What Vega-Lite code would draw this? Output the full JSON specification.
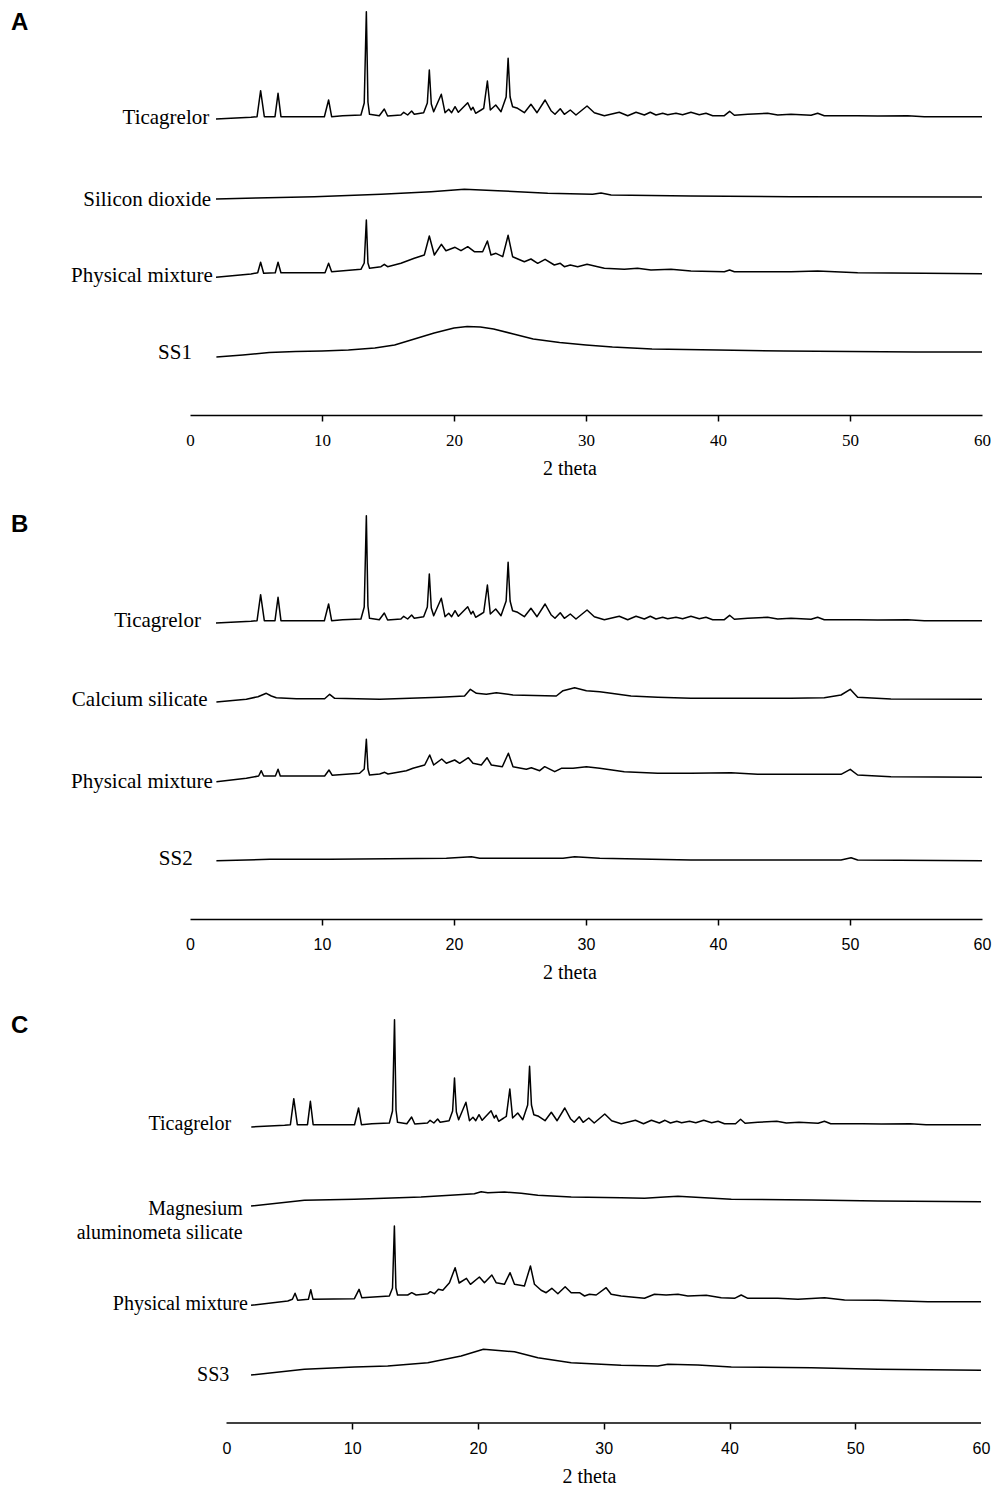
{
  "$schema": "https://vega.github.io/schema/vega-lite/v6.json",
  "background": "white",
  "padding": {"left": 10, "top": 5, "right": 5, "bottom": 2},
  "spacing": 31,
  "config": {"view": {"stroke": null}},
  "datasets": {
    "tica": [
      {"x":1.97,"y":296},{"x":4.62,"y":297.7},{"x":5.08,"y":298.3},{"x":5.35,"y":324.3},{"x":5.63,"y":298.3},{"x":6.44,"y":298.3},{"x":6.67,"y":321.7},{"x":6.89,"y":298.3},{"x":10.18,"y":298.3},{"x":10.5,"y":315},{"x":10.73,"y":298.3},{"x":11.56,"y":299.3},{"x":12.95,"y":300},{"x":13.2,"y":312},{"x":13.36,"y":403.3},{"x":13.48,"y":313},{"x":13.6,"y":300.7},{"x":14.34,"y":299.3},{"x":14.72,"y":306},{"x":14.97,"y":299},{"x":15.98,"y":300},{"x":16.19,"y":302.7},{"x":16.49,"y":300},{"x":16.79,"y":304},{"x":16.99,"y":300.7},{"x":17.7,"y":302.3},{"x":17.98,"y":312},{"x":18.13,"y":345},{"x":18.28,"y":311},{"x":18.46,"y":303.3},{"x":19.04,"y":320.7},{"x":19.32,"y":302.3},{"x":19.6,"y":305.7},{"x":19.82,"y":302.3},{"x":20.08,"y":308.3},{"x":20.33,"y":302.7},{"x":21.04,"y":312.3},{"x":21.29,"y":305},{"x":21.44,"y":307.7},{"x":21.64,"y":301.7},{"x":22.05,"y":305},{"x":22.25,"y":306.7},{"x":22.53,"y":334},{"x":22.75,"y":305},{"x":23.16,"y":310},{"x":23.56,"y":303.3},{"x":23.95,"y":318},{"x":24.1,"y":356.7},{"x":24.25,"y":318},{"x":24.44,"y":308.3},{"x":24.82,"y":306.7},{"x":25.33,"y":302.3},{"x":25.83,"y":310.7},{"x":26.29,"y":302.3},{"x":26.9,"y":315},{"x":27.35,"y":304.3},{"x":27.65,"y":300.7},{"x":28.05,"y":306.3},{"x":28.36,"y":300.7},{"x":28.81,"y":305},{"x":29.24,"y":300},{"x":30.08,"y":309},{"x":30.63,"y":302.3},{"x":31.39,"y":299.3},{"x":32.52,"y":302.7},{"x":33.16,"y":299.3},{"x":33.79,"y":302.7},{"x":34.42,"y":300},{"x":34.87,"y":302.7},{"x":35.3,"y":300},{"x":35.81,"y":301.7},{"x":36.19,"y":300.3},{"x":36.82,"y":301.7},{"x":37.32,"y":300.3},{"x":37.95,"y":302.7},{"x":38.58,"y":300.3},{"x":39.09,"y":301.7},{"x":39.6,"y":299.3},{"x":40.48,"y":299.3},{"x":40.88,"y":303.7},{"x":41.24,"y":299.7},{"x":42.25,"y":300.7},{"x":43.76,"y":301.7},{"x":44.52,"y":300},{"x":45.53,"y":300.7},{"x":47.05,"y":299.7},{"x":47.55,"y":301.7},{"x":48.05,"y":299.3},{"x":50.58,"y":299.3},{"x":52.1,"y":299},{"x":54.37,"y":299.3},{"x":55.63,"y":298.3},{"x":60,"y":298.3}
    ],
    "a": [
      {"s":"sio2","x":1.97,"y":216},{"s":"sio2","x":5,"y":217},{"s":"sio2","x":9.42,"y":218.3},{"s":"sio2","x":14.47,"y":220.7},{"s":"sio2","x":18.26,"y":223.3},{"s":"sio2","x":20.78,"y":225.7},{"s":"sio2","x":23.31,"y":224.3},{"s":"sio2","x":27.1,"y":221.7},{"s":"sio2","x":30.5,"y":220.7},{"s":"sio2","x":31.14,"y":221.9},{"s":"sio2","x":31.9,"y":220},{"s":"sio2","x":37.95,"y":219},{"s":"sio2","x":45.5,"y":218.3},{"s":"sio2","x":60,"y":218},
      {"s":"pm","x":1.97,"y":137.7},{"s":"pm","x":4.62,"y":141},{"s":"pm","x":5.13,"y":142.3},{"s":"pm","x":5.35,"y":152.7},{"s":"pm","x":5.58,"y":141.7},{"s":"pm","x":6.46,"y":142.3},{"s":"pm","x":6.67,"y":152.7},{"s":"pm","x":6.89,"y":142.3},{"s":"pm","x":10.23,"y":142.3},{"s":"pm","x":10.5,"y":151.7},{"s":"pm","x":10.73,"y":143.3},{"s":"pm","x":12.95,"y":145.7},{"s":"pm","x":13.2,"y":152},{"s":"pm","x":13.36,"y":195},{"s":"pm","x":13.48,"y":152},{"s":"pm","x":13.6,"y":146.7},{"s":"pm","x":14.47,"y":148.3},{"s":"pm","x":14.72,"y":150.7},{"s":"pm","x":14.97,"y":148.3},{"s":"pm","x":15.98,"y":151.7},{"s":"pm","x":16.99,"y":156.7},{"s":"pm","x":17.75,"y":160},{"s":"pm","x":18.13,"y":179},{"s":"pm","x":18.51,"y":160},{"s":"pm","x":19.04,"y":170.7},{"s":"pm","x":19.39,"y":164.3},{"s":"pm","x":20.08,"y":167.7},{"s":"pm","x":20.53,"y":164.3},{"s":"pm","x":21.04,"y":168.3},{"s":"pm","x":21.54,"y":163.3},{"s":"pm","x":22.17,"y":163.3},{"s":"pm","x":22.53,"y":174},{"s":"pm","x":22.8,"y":160},{"s":"pm","x":23.18,"y":161.7},{"s":"pm","x":23.69,"y":158.3},{"s":"pm","x":24.1,"y":179.7},{"s":"pm","x":24.44,"y":158.3},{"s":"pm","x":25.33,"y":153.3},{"s":"pm","x":25.83,"y":156},{"s":"pm","x":26.34,"y":151.7},{"s":"pm","x":26.9,"y":155.7},{"s":"pm","x":27.6,"y":150},{"s":"pm","x":28.05,"y":151.7},{"s":"pm","x":28.36,"y":148.3},{"s":"pm","x":28.81,"y":150},{"s":"pm","x":29.37,"y":148.3},{"s":"pm","x":30.08,"y":150.7},{"s":"pm","x":30.89,"y":148.3},{"s":"pm","x":31.39,"y":146.7},{"s":"pm","x":32.9,"y":145.7},{"s":"pm","x":33.9,"y":146.7},{"s":"pm","x":34.92,"y":145},{"s":"pm","x":36.44,"y":145.7},{"s":"pm","x":37.95,"y":144},{"s":"pm","x":40.48,"y":143.3},{"s":"pm","x":40.88,"y":145},{"s":"pm","x":41.24,"y":143.3},{"s":"pm","x":45.53,"y":143.3},{"s":"pm","x":47.55,"y":144},{"s":"pm","x":50.58,"y":142.3},{"s":"pm","x":55.63,"y":141.7},{"s":"pm","x":60,"y":141.3},
      {"s":"ss","x":2,"y":58},{"s":"ss","x":4,"y":60},{"s":"ss","x":6,"y":62.5},{"s":"ss","x":8,"y":63.5},{"s":"ss","x":10,"y":64},{"s":"ss","x":12,"y":65},{"s":"ss","x":14,"y":67},{"s":"ss","x":15.5,"y":70},{"s":"ss","x":17,"y":76},{"s":"ss","x":18.5,"y":82},{"s":"ss","x":20,"y":87},{"s":"ss","x":21,"y":88.5},{"s":"ss","x":22,"y":88},{"s":"ss","x":23,"y":86},{"s":"ss","x":24.5,"y":81},{"s":"ss","x":26,"y":76},{"s":"ss","x":28,"y":72.5},{"s":"ss","x":30,"y":70},{"s":"ss","x":32,"y":68},{"s":"ss","x":35,"y":66},{"s":"ss","x":40,"y":65},{"s":"ss","x":45,"y":64},{"s":"ss","x":50,"y":63.5},{"s":"ss","x":55,"y":63},{"s":"ss","x":60,"y":63}
    ],
    "b": [
      {"s":"cs","x":2.0,"y":217},{"s":"cs","x":4.27,"y":219.7},{"s":"cs","x":5.15,"y":222.3},{"s":"cs","x":5.78,"y":225.7},{"s":"cs","x":6.16,"y":223},{"s":"cs","x":6.54,"y":221.3},{"s":"cs","x":8.06,"y":220.3},{"s":"cs","x":10.2,"y":220.3},{"s":"cs","x":10.58,"y":224.7},{"s":"cs","x":10.96,"y":220.7},{"s":"cs","x":14.37,"y":219.7},{"s":"cs","x":18.92,"y":221.7},{"s":"cs","x":20.8,"y":223},{"s":"cs","x":21.24,"y":229.7},{"s":"cs","x":21.7,"y":225.7},{"s":"cs","x":22.45,"y":224.7},{"s":"cs","x":23.21,"y":226.3},{"s":"cs","x":24.47,"y":224},{"s":"cs","x":27.75,"y":223},{"s":"cs","x":28.26,"y":228.3},{"s":"cs","x":29.14,"y":231.3},{"s":"cs","x":30.03,"y":228.3},{"s":"cs","x":31.04,"y":227.3},{"s":"cs","x":31.89,"y":225.7},{"s":"cs","x":33.41,"y":223},{"s":"cs","x":35.43,"y":221.7},{"s":"cs","x":37.95,"y":220.7},{"s":"cs","x":45.53,"y":220.7},{"s":"cs","x":48.05,"y":221.3},{"s":"cs","x":49.32,"y":224},{"s":"cs","x":50.02,"y":229.7},{"s":"cs","x":50.58,"y":221.7},{"s":"cs","x":53.1,"y":220},{"s":"cs","x":60,"y":219.7},
      {"s":"pm","x":2.0,"y":137.3},{"s":"pm","x":4.27,"y":140.7},{"s":"pm","x":5.2,"y":143},{"s":"pm","x":5.4,"y":148.3},{"s":"pm","x":5.58,"y":143},{"s":"pm","x":6.47,"y":143},{"s":"pm","x":6.67,"y":149.7},{"s":"pm","x":6.84,"y":143},{"s":"pm","x":10.2,"y":143},{"s":"pm","x":10.53,"y":149},{"s":"pm","x":10.78,"y":143.7},{"s":"pm","x":12.85,"y":145.7},{"s":"pm","x":13.2,"y":150},{"s":"pm","x":13.36,"y":179.7},{"s":"pm","x":13.48,"y":150},{"s":"pm","x":13.6,"y":144},{"s":"pm","x":14.37,"y":145},{"s":"pm","x":14.75,"y":146.7},{"s":"pm","x":15.0,"y":145},{"s":"pm","x":16.39,"y":148.3},{"s":"pm","x":16.89,"y":150.7},{"s":"pm","x":17.78,"y":154},{"s":"pm","x":18.16,"y":164},{"s":"pm","x":18.46,"y":154},{"s":"pm","x":19.07,"y":160},{"s":"pm","x":19.42,"y":155.7},{"s":"pm","x":20.05,"y":159},{"s":"pm","x":20.43,"y":155.7},{"s":"pm","x":21.09,"y":161.3},{"s":"pm","x":21.44,"y":155.7},{"s":"pm","x":22.07,"y":154},{"s":"pm","x":22.5,"y":161.3},{"s":"pm","x":22.83,"y":154},{"s":"pm","x":23.66,"y":152.3},{"s":"pm","x":24.12,"y":165.7},{"s":"pm","x":24.47,"y":152.3},{"s":"pm","x":25.48,"y":149.7},{"s":"pm","x":25.86,"y":151.3},{"s":"pm","x":26.49,"y":148.3},{"s":"pm","x":26.87,"y":152.3},{"s":"pm","x":27.63,"y":147.3},{"s":"pm","x":28.13,"y":150.7},{"s":"pm","x":29.02,"y":150.7},{"s":"pm","x":30.03,"y":152.3},{"s":"pm","x":31.04,"y":150.7},{"s":"pm","x":32.9,"y":147.3},{"s":"pm","x":35.43,"y":145.7},{"s":"pm","x":37.95,"y":145.7},{"s":"pm","x":40.98,"y":146.3},{"s":"pm","x":43,"y":144.7},{"s":"pm","x":47.55,"y":144.7},{"s":"pm","x":49.32,"y":144.7},{"s":"pm","x":50.02,"y":149.7},{"s":"pm","x":50.58,"y":144},{"s":"pm","x":53.1,"y":142.3},{"s":"pm","x":60,"y":141.7},
      {"s":"ss","x":2.0,"y":58.3},{"s":"ss","x":6.04,"y":59.7},{"s":"ss","x":10.58,"y":59.7},{"s":"ss","x":19.42,"y":60.7},{"s":"ss","x":21.32,"y":62.3},{"s":"ss","x":21.95,"y":60.7},{"s":"ss","x":28.26,"y":60.7},{"s":"ss","x":29.14,"y":62.3},{"s":"ss","x":31.04,"y":60.7},{"s":"ss","x":37.95,"y":59},{"s":"ss","x":49.32,"y":59},{"s":"ss","x":50.08,"y":61.3},{"s":"ss","x":50.58,"y":59},{"s":"ss","x":60,"y":58.3}
    ],
    "c": [
      {"s":"mg","x":1.95,"y":217},{"s":"mg","x":6.19,"y":222.7},{"s":"mg","x":10.17,"y":223.7},{"s":"mg","x":15.47,"y":226},{"s":"mg","x":18.12,"y":228},{"s":"mg","x":19.71,"y":229.3},{"s":"mg","x":20.25,"y":231.3},{"s":"mg","x":20.78,"y":230.3},{"s":"mg","x":22.1,"y":231},{"s":"mg","x":23.43,"y":229.7},{"s":"mg","x":24.76,"y":227.7},{"s":"mg","x":27.41,"y":226},{"s":"mg","x":31.38,"y":225.3},{"s":"mg","x":33.24,"y":224.7},{"s":"mg","x":34.83,"y":226},{"s":"mg","x":35.9,"y":226.7},{"s":"mg","x":38.02,"y":225.3},{"s":"mg","x":40.14,"y":223.7},{"s":"mg","x":46.5,"y":223},{"s":"mg","x":51.8,"y":222},{"s":"mg","x":60,"y":221.3},
      {"s":"pm","x":1.95,"y":117.7},{"s":"pm","x":4.87,"y":122},{"s":"pm","x":5.24,"y":123.7},{"s":"pm","x":5.45,"y":129.7},{"s":"pm","x":5.66,"y":122.7},{"s":"pm","x":6.51,"y":123.7},{"s":"pm","x":6.7,"y":133.3},{"s":"pm","x":6.88,"y":123.7},{"s":"pm","x":10.17,"y":124.3},{"s":"pm","x":10.54,"y":133.7},{"s":"pm","x":10.76,"y":125.3},{"s":"pm","x":12.95,"y":127},{"s":"pm","x":13.2,"y":135},{"s":"pm","x":13.35,"y":197},{"s":"pm","x":13.47,"y":135},{"s":"pm","x":13.6,"y":128},{"s":"pm","x":14.41,"y":128},{"s":"pm","x":14.73,"y":130.3},{"s":"pm","x":15.08,"y":128},{"s":"pm","x":16.01,"y":129.3},{"s":"pm","x":16.21,"y":131.3},{"s":"pm","x":16.53,"y":129.3},{"s":"pm","x":16.85,"y":133.7},{"s":"pm","x":17.2,"y":132.7},{"s":"pm","x":17.73,"y":140.3},{"s":"pm","x":18.18,"y":155.3},{"s":"pm","x":18.5,"y":140},{"s":"pm","x":19.08,"y":144.7},{"s":"pm","x":19.4,"y":138.7},{"s":"pm","x":20.11,"y":146},{"s":"pm","x":20.51,"y":140.3},{"s":"pm","x":21.1,"y":148},{"s":"pm","x":21.44,"y":140.3},{"s":"pm","x":22.1,"y":138.7},{"s":"pm","x":22.55,"y":150.3},{"s":"pm","x":22.9,"y":138.7},{"s":"pm","x":23.69,"y":137},{"s":"pm","x":24.17,"y":157},{"s":"pm","x":24.49,"y":138.7},{"s":"pm","x":25.02,"y":132.7},{"s":"pm","x":25.42,"y":130.3},{"s":"pm","x":25.87,"y":134.7},{"s":"pm","x":26.35,"y":129.3},{"s":"pm","x":26.93,"y":136.3},{"s":"pm","x":27.41,"y":130.3},{"s":"pm","x":28.07,"y":130.3},{"s":"pm","x":28.47,"y":127},{"s":"pm","x":28.86,"y":128.7},{"s":"pm","x":29.4,"y":128},{"s":"pm","x":30.19,"y":135.3},{"s":"pm","x":30.59,"y":128.7},{"s":"pm","x":31.38,"y":127},{"s":"pm","x":32.18,"y":126},{"s":"pm","x":33.24,"y":124.7},{"s":"pm","x":34.03,"y":128.7},{"s":"pm","x":34.96,"y":128},{"s":"pm","x":35.9,"y":128.7},{"s":"pm","x":36.69,"y":127},{"s":"pm","x":38.15,"y":127.7},{"s":"pm","x":39.34,"y":125.3},{"s":"pm","x":40.4,"y":124.7},{"s":"pm","x":40.93,"y":128},{"s":"pm","x":41.46,"y":124.7},{"s":"pm","x":43.85,"y":124.7},{"s":"pm","x":45.44,"y":123.7},{"s":"pm","x":47.56,"y":125.3},{"s":"pm","x":49.15,"y":123},{"s":"pm","x":51.8,"y":122.7},{"s":"pm","x":55.78,"y":121.3},{"s":"pm","x":60,"y":121.3},
      {"s":"ss","x":1.95,"y":48},{"s":"ss","x":6.19,"y":53.7},{"s":"ss","x":10.17,"y":56},{"s":"ss","x":12.82,"y":57},{"s":"ss","x":16.01,"y":60.3},{"s":"ss","x":18.66,"y":67},{"s":"ss","x":20.43,"y":73.7},{"s":"ss","x":22.1,"y":72},{"s":"ss","x":22.9,"y":71.3},{"s":"ss","x":24.76,"y":65.3},{"s":"ss","x":27.41,"y":60.3},{"s":"ss","x":31.38,"y":57.7},{"s":"ss","x":34.3,"y":57},{"s":"ss","x":35.1,"y":58.7},{"s":"ss","x":37.49,"y":58},{"s":"ss","x":40.14,"y":56},{"s":"ss","x":46.5,"y":55.3},{"s":"ss","x":51.8,"y":53.7},{"s":"ss","x":60,"y":52.7}
    ],
    "labels": [
      {"p":"A","t":"Ticagrelor","x":1.46,"y":297},
      {"p":"A","t":"Silicon dioxide","x":1.59,"y":215},
      {"p":"A","t":"Physical mixture","x":1.72,"y":139},
      {"p":"A","t":"SS1","x":0.15,"y":62},
      {"p":"B","t":"Ticagrelor","x":0.83,"y":298},
      {"p":"B","t":"Calcium silicate","x":1.34,"y":219},
      {"p":"B","t":"Physical mixture","x":1.72,"y":137},
      {"p":"B","t":"SS2","x":0.2,"y":60},
      {"p":"C","t":"Ticagrelor","x":0.36,"y":299},
      {"p":"C","t":"Magnesium\naluminometa silicate","x":1.29,"y":214},
      {"p":"C","t":"Physical mixture","x":1.69,"y":119},
      {"p":"C","t":"SS3","x":0.22,"y":48}
    ],
    "letters": [
      {"p":"A","t":"A","x":-13.56,"y":392},
      {"p":"B","t":"B","x":-13.56,"y":394},
      {"p":"C","t":"C","x":-17.14,"y":397}
    ]
  },
  "vconcat": [
    {
      "width": 792, "height": 410,
      "layer": [
        {"data": {"name": "tica"},
         "mark": {"type": "line", "color": "black", "strokeWidth": 1.5, "strokeJoin": "round"},
         "encoding": {
           "x": {"field": "x", "type": "quantitative", "scale": {"domain": [0, 60], "nice": false, "zero": false},
                 "axis": {"values": [0,10,20,30,40,50,60], "title": "2 theta", "grid": false, "domainColor": "black", "domainWidth": 1.5,
                          "tickColor": {"condition": {"test": "datum.value === 0 || datum.value === 60", "value": "transparent"}, "value": "black"},
                          "tickSize": 6, "tickWidth": 1.5, "labelFont": "Liberation Serif", "labelFontSize": 17, "labelColor": "black",
                          "labelPadding": 11, "labelFlush": false, "labelOverlap": false,
                          "titleFont": "Liberation Serif", "titleFontSize": 20, "titleFontWeight": "normal", "titleColor": "black",
                          "titlePadding": 10, "titleX": 379.5}},
           "y": {"field": "y", "type": "quantitative", "scale": {"domain": [0, 410], "nice": false}, "axis": null}
         }},
        {"data": {"name": "a"},
         "mark": {"type": "line", "color": "black", "strokeWidth": 1.5, "strokeJoin": "round"},
         "encoding": {
           "x": {"field": "x", "type": "quantitative"},
           "y": {"field": "y", "type": "quantitative"},
           "detail": {"field": "s", "type": "nominal"}
         }},
        {"data": {"name": "labels"}, "transform": [{"filter": "datum.p === 'A'"}],
         "mark": {"type": "text", "align": "right", "baseline": "middle", "font": "Liberation Serif", "fontSize": 21, "color": "black"},
         "encoding": {"x": {"field": "x", "type": "quantitative"}, "y": {"field": "y", "type": "quantitative"}, "text": {"field": "t"}}},
        {"data": {"name": "letters"}, "transform": [{"filter": "datum.p === 'A'"}],
         "mark": {"type": "text", "align": "left", "baseline": "middle", "font": "Liberation Sans", "fontWeight": "bold", "fontSize": 24, "color": "black"},
         "encoding": {"x": {"field": "x", "type": "quantitative"}, "y": {"field": "y", "type": "quantitative"}, "text": {"field": "t"}}}
      ]
    },
    {
      "width": 792, "height": 410,
      "layer": [
        {"data": {"name": "tica"},
         "mark": {"type": "line", "color": "black", "strokeWidth": 1.5, "strokeJoin": "round"},
         "encoding": {
           "x": {"field": "x", "type": "quantitative", "scale": {"domain": [0, 60], "nice": false, "zero": false},
                 "axis": {"values": [0,10,20,30,40,50,60], "title": "2 theta", "grid": false, "domainColor": "black", "domainWidth": 1.5,
                          "tickColor": {"condition": {"test": "datum.value === 0 || datum.value === 60", "value": "transparent"}, "value": "black"},
                          "tickSize": 6, "tickWidth": 1.5, "labelFont": "Liberation Sans", "labelFontSize": 16, "labelColor": "black",
                          "labelPadding": 11, "labelFlush": false, "labelOverlap": false,
                          "titleFont": "Liberation Serif", "titleFontSize": 20, "titleFontWeight": "normal", "titleColor": "black",
                          "titlePadding": 10, "titleX": 379.5}},
           "y": {"field": "y", "type": "quantitative", "scale": {"domain": [0, 410], "nice": false}, "axis": null}
         }},
        {"data": {"name": "b"},
         "mark": {"type": "line", "color": "black", "strokeWidth": 1.5, "strokeJoin": "round"},
         "encoding": {
           "x": {"field": "x", "type": "quantitative"},
           "y": {"field": "y", "type": "quantitative"},
           "detail": {"field": "s", "type": "nominal"}
         }},
        {"data": {"name": "labels"}, "transform": [{"filter": "datum.p === 'B'"}],
         "mark": {"type": "text", "align": "right", "baseline": "middle", "font": "Liberation Serif", "fontSize": 21, "color": "black"},
         "encoding": {"x": {"field": "x", "type": "quantitative"}, "y": {"field": "y", "type": "quantitative"}, "text": {"field": "t"}}},
        {"data": {"name": "letters"}, "transform": [{"filter": "datum.p === 'B'"}],
         "mark": {"type": "text", "align": "left", "baseline": "middle", "font": "Liberation Sans", "fontWeight": "bold", "fontSize": 24, "color": "black"},
         "encoding": {"x": {"field": "x", "type": "quantitative"}, "y": {"field": "y", "type": "quantitative"}, "text": {"field": "t"}}}
      ]
    },
    {
      "width": 791, "height": 410,
      "layer": [
        {"data": {"name": "tica"},
         "mark": {"type": "line", "color": "black", "strokeWidth": 1.5, "strokeJoin": "round"},
         "encoding": {
           "x": {"field": "x", "type": "quantitative", "scale": {"domain": [-2.904, 60], "nice": false, "zero": false},
                 "axis": {"values": [0,10,20,30,40,50,60], "title": "2 theta", "grid": false, "domain": false,
                          "tickColor": {"condition": {"test": "datum.value === 0 || datum.value === 60", "value": "transparent"}, "value": "black"},
                          "tickSize": 6, "tickWidth": 1.5, "labelFont": "Liberation Sans", "labelFontSize": 16, "labelColor": "black",
                          "labelPadding": 11, "labelFlush": false, "labelOverlap": false,
                          "titleFont": "Liberation Serif", "titleFontSize": 20, "titleFontWeight": "normal", "titleColor": "black",
                          "titlePadding": 10, "titleX": 399}},
           "y": {"field": "y", "type": "quantitative", "scale": {"domain": [0, 410], "nice": false}, "axis": null}
         }},
        {"data": {"values": [{"x0": 0, "x1": 60, "y0": 0}]},
         "mark": {"type": "rule", "color": "black", "strokeWidth": 1.5},
         "encoding": {"x": {"field": "x0", "type": "quantitative"}, "x2": {"field": "x1"}, "y": {"field": "y0", "type": "quantitative"}}},
        {"data": {"name": "c"},
         "mark": {"type": "line", "color": "black", "strokeWidth": 1.5, "strokeJoin": "round"},
         "encoding": {
           "x": {"field": "x", "type": "quantitative"},
           "y": {"field": "y", "type": "quantitative"},
           "detail": {"field": "s", "type": "nominal"}
         }},
        {"data": {"name": "labels"}, "transform": [{"filter": "datum.p === 'C'"}],
         "mark": {"type": "text", "align": "right", "baseline": "middle", "font": "Liberation Serif", "fontSize": 20, "color": "black", "lineBreak": "\n", "lineHeight": 24},
         "encoding": {"x": {"field": "x", "type": "quantitative"}, "y": {"field": "y", "type": "quantitative"}, "text": {"field": "t"}}},
        {"data": {"name": "letters"}, "transform": [{"filter": "datum.p === 'C'"}],
         "mark": {"type": "text", "align": "left", "baseline": "middle", "font": "Liberation Sans", "fontWeight": "bold", "fontSize": 24, "color": "black"},
         "encoding": {"x": {"field": "x", "type": "quantitative"}, "y": {"field": "y", "type": "quantitative"}, "text": {"field": "t"}}}
      ]
    }
  ]
}
